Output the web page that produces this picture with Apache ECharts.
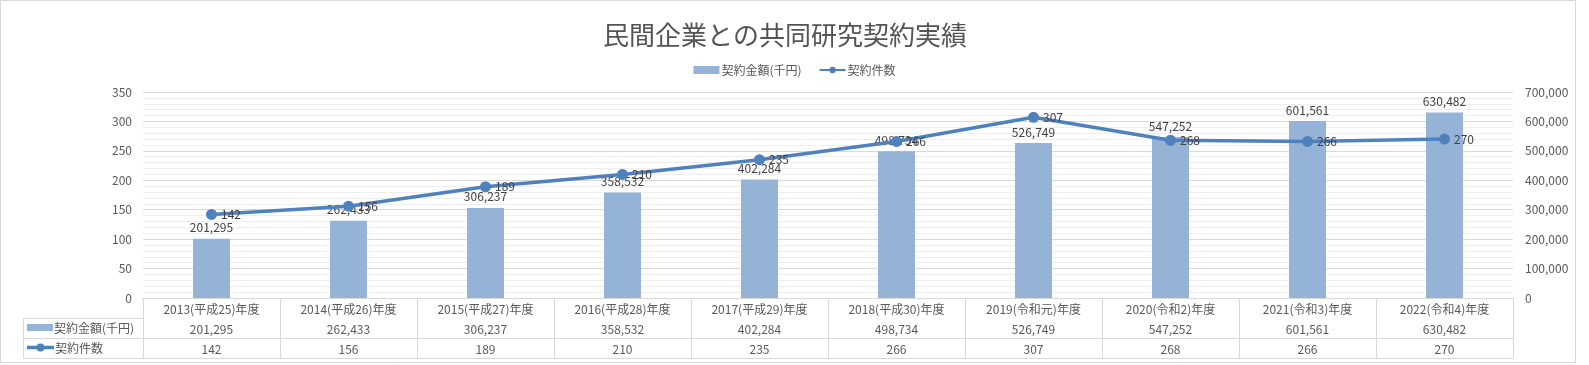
<!DOCTYPE html>
<html>
<head>
<meta charset="utf-8">
<script src="https://cdn.jsdelivr.net/npm/echarts@6/dist/echarts.min.js"></script>
<style>
html,body{margin:0;padding:0;background:#fff;}
#c{width:1589px;height:365px;}
</style>
</head>
<body>
<div id="c"></div>
<script>
// ---- data ----
const categories = ['2013(平成25)年度','2014(平成26)年度','2015(平成27)年度','2016(平成28)年度','2017(平成29)年度','2018(平成30)年度','2019(令和元)年度','2020(令和2)年度','2021(令和3)年度','2022(令和4)年度'];
const amounts = [201295, 262433, 306237, 358532, 402284, 498734, 526749, 547252, 601561, 630482];
const counts = [142, 156, 189, 210, 235, 266, 307, 268, 266, 270];
const seriesNames = ['契約金額(千円)', '契約件数'];
const titleText = '民間企業との共同研究契約実績';

const FONT = '"Noto Sans CJK JP", "Noto Sans", sans-serif';
const fmt = v => Number(v).toLocaleString('en-US');
const BAR_COLOR = '#95B3D7';
const LINE_COLOR = '#4F81BD';
const GRID_COLOR = '#d9d9d9';
const TEXT = '#595959';

const chart = echarts.init(document.getElementById('c'), null, {renderer: 'canvas'});

const tableAxisBase = {
  type: 'category',
  data: categories,
  position: 'bottom',
  gridIndex: 0,
  axisTick: {show: false},
  axisLine: {show: true, lineStyle: {color: GRID_COLOR, width: 1}},
  splitLine: {show: false}
};

const option = {
  backgroundColor: '#fff',
  textStyle: {fontFamily: FONT},
  title: {
    text: titleText,
    left: 780,
    textAlign: 'center',
    top: 17,
    textStyle: {fontFamily: FONT, fontSize: 26, fontWeight: 'normal', color: '#545454'}
  },
  legend: {
    top: 59,
    left: 'center',
    itemGap: 17,
    itemWidth: 26,
    itemHeight: 8,
    textStyle: {fontFamily: FONT, fontSize: 12, color: TEXT, padding: [0, 0, 0, -3]},
    data: [{name: seriesNames[0], icon: 'rect'}, {name: seriesNames[1]}]
  },
  grid: {left: 143, right: 76, top: 92, bottom: 67, containLabel: false},
  xAxis: [
    Object.assign({}, tableAxisBase, {
      axisTick: {show: true, interval: 0, length: 60, lineStyle: {color: GRID_COLOR}},
      axisLabel: {interval: 0, margin: 4, fontSize: 12, lineHeight: 14, color: TEXT, fontFamily: FONT}
    }),
    Object.assign({}, tableAxisBase, {
      offset: 20,
      axisLabel: {interval: 0, margin: 4, fontSize: 12, lineHeight: 14, color: TEXT, fontFamily: FONT,
        formatter: (v, i) => fmt(amounts[i])}
    }),
    Object.assign({}, tableAxisBase, {
      offset: 40,
      axisLabel: {interval: 0, margin: 4, fontSize: 12, lineHeight: 14, color: TEXT, fontFamily: FONT,
        formatter: (v, i) => String(counts[i])}
    }),
    Object.assign({}, tableAxisBase, {
      offset: 60,
      axisLabel: {show: false}
    })
  ],
  yAxis: [
    {
      type: 'value', position: 'left', min: 0, max: 350, interval: 50,
      axisLine: {show: false}, axisTick: {show: false},
      axisLabel: {margin: 11, fontSize: 12, color: TEXT, fontFamily: FONT},
      splitLine: {show: true, lineStyle: {color: GRID_COLOR, width: 1}},
      minorTick: {show: false, splitNumber: 5},
      minorSplitLine: {show: true, lineStyle: {color: '#eeeeee', width: 1}}
    },
    {
      type: 'value', position: 'right', min: 0, max: 700000, interval: 100000,
      axisLine: {show: false}, axisTick: {show: false},
      axisLabel: {margin: 12, fontSize: 12, color: TEXT, fontFamily: FONT, formatter: v => fmt(v)},
      splitLine: {show: false}
    }
  ],
  series: [
    {
      name: seriesNames[0], type: 'bar', xAxisIndex: 0, yAxisIndex: 1,
      data: amounts, barWidth: 37,
      itemStyle: {color: BAR_COLOR},
      label: {show: true, position: 'top', distance: 5, fontSize: 12, color: '#404040', fontFamily: FONT,
        formatter: p => fmt(p.value)},
      z: 2
    },
    {
      name: seriesNames[1], type: 'line', xAxisIndex: 0, yAxisIndex: 0,
      data: counts,
      symbol: 'circle', symbolSize: 11,
      lineStyle: {color: LINE_COLOR, width: 3.5},
      itemStyle: {color: LINE_COLOR},
      label: {show: true, position: 'right', distance: 4, fontSize: 12, color: '#404040', fontFamily: FONT},
      z: 3
    }
  ],
  graphic: [
    // outer chart border
    {type: 'rect', shape: {x: 0.5, y: 0.5, width: 1575, height: 362}, style: {fill: null, stroke: GRID_COLOR, lineWidth: 1}, silent: true},
    // legend-key column of the data table
    {type: 'line', shape: {x1: 23.5, y1: 318, x2: 23.5, y2: 358}, style: {stroke: GRID_COLOR, lineWidth: 1}},
    {type: 'line', shape: {x1: 23, y1: 318.5, x2: 143, y2: 318.5}, style: {stroke: GRID_COLOR, lineWidth: 1}},
    {type: 'line', shape: {x1: 23, y1: 338.5, x2: 143, y2: 338.5}, style: {stroke: GRID_COLOR, lineWidth: 1}},
    {type: 'line', shape: {x1: 23, y1: 358.5, x2: 143, y2: 358.5}, style: {stroke: GRID_COLOR, lineWidth: 1}},
    {type: 'rect', shape: {x: 27, y: 324, width: 26, height: 7}, style: {fill: BAR_COLOR}},
    {type: 'text', x: 54, y: 328, style: {text: seriesNames[0], font: '12px ' + FONT, fill: TEXT, textVerticalAlign: 'middle'}},
    {type: 'line', shape: {x1: 27, y1: 347.5, x2: 54, y2: 347.5}, style: {stroke: LINE_COLOR, lineWidth: 3.5}},
    {type: 'circle', shape: {cx: 40.5, cy: 347.5, r: 4}, style: {fill: LINE_COLOR}},
    {type: 'text', x: 55, y: 348, style: {text: seriesNames[1], font: '12px ' + FONT, fill: TEXT, textVerticalAlign: 'middle'}}
  ]
};
chart.setOption(option);
</script>
</body>
</html>
